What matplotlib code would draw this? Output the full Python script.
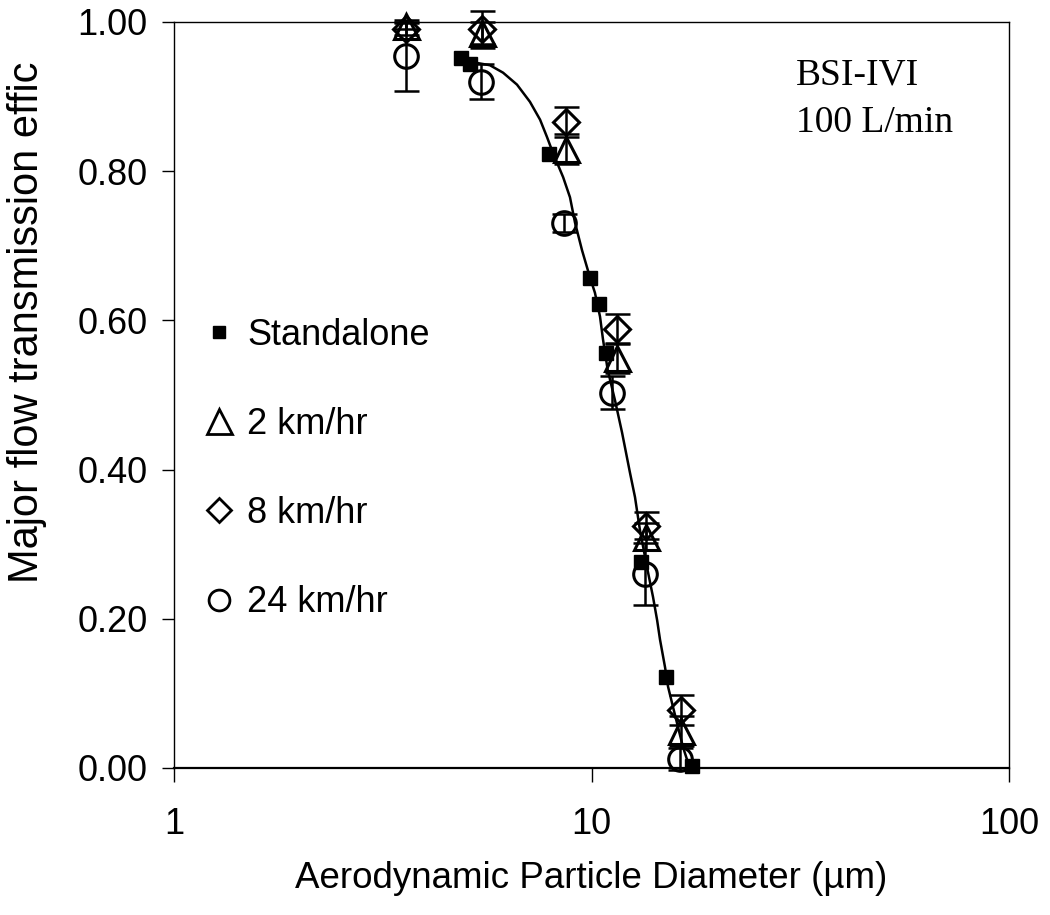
import numpy as np
import matplotlib.pyplot as plt
from matplotlib.ticker import FixedLocator, NullLocator, FuncFormatter

plt.rcParams['font.family'] = ['Liberation Sans', 'DejaVu Sans']

# --- data ---
# standalone sampler (filled squares)
sa_d = [4.87, 5.12, 7.91, 9.92, 10.42, 10.83, 13.14, 15.08, 17.41]
sa_eff = [0.952, 0.944, 0.823, 0.657, 0.622, 0.556, 0.276, 0.122, 0.003]

# wind tunnel runs
d_2 = [3.59, 5.47, 8.69, 11.51, 13.5, 16.4]
eff_2 = [0.995, 0.985, 0.830, 0.550, 0.310, 0.050]
err_2 = [0.005, 0.015, 0.020, 0.020, 0.018, 0.020]

d_8 = [3.59, 5.47, 8.69, 11.51, 13.5, 16.4]
eff_8 = [0.990, 0.990, 0.866, 0.588, 0.325, 0.078]
err_8 = [0.008, 0.025, 0.020, 0.020, 0.018, 0.020]

d_24 = [3.59, 5.44, 8.60, 11.2, 13.4, 16.3]
eff_24 = [0.955, 0.920, 0.730, 0.503, 0.260, 0.012]
err_24 = [0.048, 0.023, 0.012, 0.022, 0.042, 0.015]

# fitted curve, traced point by point
fit_d = [5.20, 5.71, 6.14, 6.63, 7.12, 7.53, 7.82, 8.09, 8.55, 8.88, 9.13,
         9.49, 9.91, 10.19, 10.48, 10.65, 10.93, 11.38, 11.83, 12.36, 12.71,
         13.06, 13.58, 14.04, 14.36, 14.59, 15.0, 15.25, 15.67, 16.11, 16.56, 17.03]
fit_eff = [0.946, 0.942, 0.932, 0.916, 0.893, 0.869, 0.846, 0.824, 0.792, 0.765,
           0.731, 0.694, 0.658, 0.637, 0.605, 0.575, 0.534, 0.493, 0.450, 0.396,
           0.363, 0.319, 0.269, 0.229, 0.198, 0.172, 0.135, 0.109, 0.082, 0.055,
           0.028, 0.007]

fig = plt.figure(figsize=(10.5, 9.15), dpi=100)
ax = fig.add_axes([0.1657, 0.1607, 0.7953, 0.8153])

ax.plot(fit_d, fit_eff, color='black', lw=1.8, zorder=2)

eb = dict(fmt='none', ecolor='black', elinewidth=1.8, capsize=9, capthick=1.8,
          zorder=3, clip_on=False)
ax.errorbar(d_2, eff_2, yerr=err_2, **eb)
ax.errorbar(d_8, eff_8, yerr=err_8, **eb)
ax.errorbar(d_24, eff_24, yerr=err_24, **eb)

ax.plot(d_24, eff_24, 'o', ms=17, mfc='none', mec='black', mew=2.2, zorder=4, clip_on=False)
ax.plot(d_2, eff_2, '^', ms=18, mfc='none', mec='black', mew=2.2, zorder=4, clip_on=False)
ax.plot(d_8, eff_8, 'D', ms=13, mfc='none', mec='black', mew=2.2, zorder=4, clip_on=False)
ax.plot(sa_d, sa_eff, 's', ms=10, color='black', zorder=5, clip_on=False)

# legend handles
h_sa, = ax.plot([], [], 's', ms=8, color='black', label='Standalone')
h_2, = ax.plot([], [], '^', ms=18, mfc='none', mec='black', mew=2.0, label='2 km/hr')
h_8, = ax.plot([], [], 'D', ms=12, mfc='none', mec='black', mew=2.0, label='8 km/hr')
h_24, = ax.plot([], [], 'o', ms=15, mfc='none', mec='black', mew=2.0, label='24 km/hr')
ax.legend(handles=[h_sa, h_2, h_8, h_24], loc='upper left',
          bbox_to_anchor=(0.0144, 0.623), frameon=False, fontsize=26,
          labelspacing=1.5, handlelength=1.0, handletextpad=0.3,
          borderaxespad=0, numpoints=1)

ax.text(0.745, 0.952, 'BSI-IVI\n100 L/min', transform=ax.transAxes,
        fontsize=27, family='Liberation Serif', va='top', ha='left',
        linespacing=1.5)

ax.set_xscale('log')
ax.set_xlim(1, 100)
ax.set_ylim(0, 1)
ax.xaxis.set_major_locator(FixedLocator([1, 10, 100]))
ax.xaxis.set_minor_locator(NullLocator())
ax.xaxis.set_major_formatter(FuncFormatter(lambda v, p: f'{v:g}'))
ax.set_yticks(np.arange(0, 1.01, 0.2))
ax.yaxis.set_major_formatter(FuncFormatter(lambda v, p: f'{v:.2f}'))

ax.tick_params(axis='both', direction='out', labelsize=26, width=1, colors='black')
ax.tick_params(axis='x', length=10, pad=18)
ax.tick_params(axis='y', length=9, pad=10)

for s in ax.spines.values():
    s.set_linewidth(1.0)
ax.spines['bottom'].set_linewidth(1.6)

ax.set_xlabel('Aerodynamic Particle Diameter (\u00b5m)', fontsize=26.5, labelpad=14)
ax.set_ylabel('Major flow transmission effic', fontsize=30)
ax.yaxis.set_label_coords(-0.152, 0.598)

fig.savefig('out.png', dpi=100)
